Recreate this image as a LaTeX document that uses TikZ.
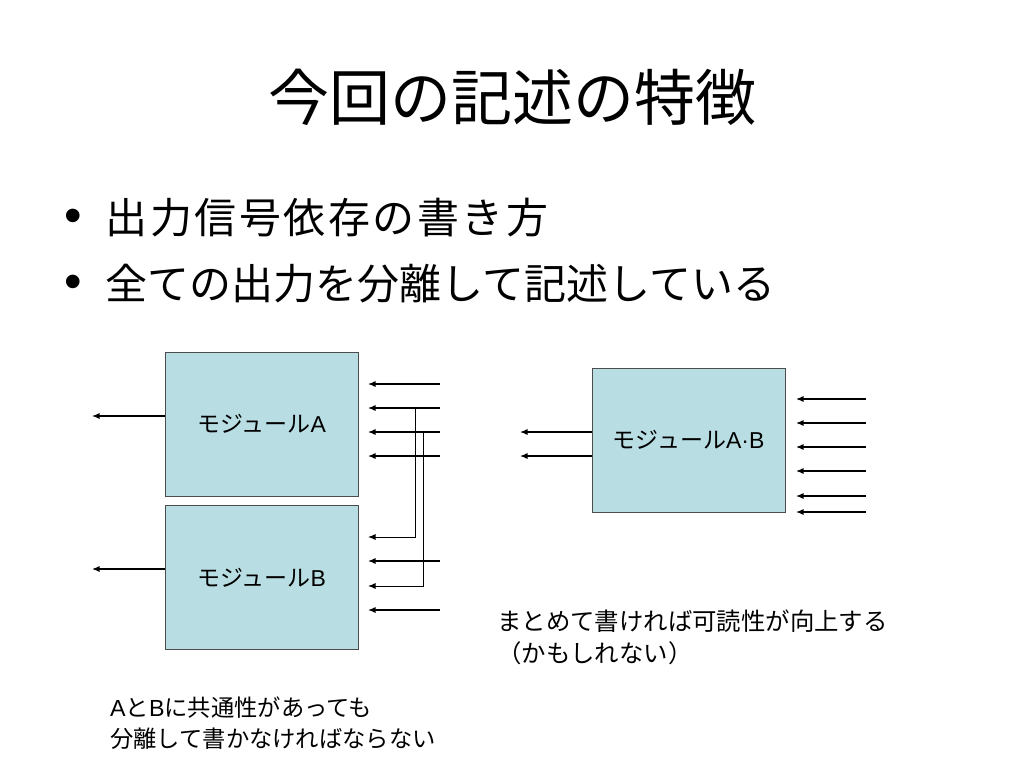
\documentclass[tikz,border=0pt]{standalone}
\usepackage{fontspec}
\setmainfont{Noto Sans CJK JP}
\newfontfamily\latin{Liberation Sans}
\newfontfamily\wide[LetterSpace=6]{Noto Sans CJK JP}
\usepackage{xcolor}
\usetikzlibrary{arrows.meta}
\usetikzlibrary{calc}
\definecolor{modfill}{RGB}{184,222,227}
\newcommand\fsz[1]{\fontsize{#1}{1.35\dimexpr#1pt\relax}\selectfont}
\tikzstyle{module}=[draw=black!70,line width=.9pt,fill=modfill,minimum width=193pt,minimum height=144pt,inner sep=0pt,font=\fsz{23}]
\tikzstyle{sighead}=[>/.tip={Latex[length=7.5pt,width=6pt]}]
\tikzstyle{sig}=[line width=1.2pt,sighead,->]
\tikzstyle{fork}=[line width=1pt,sighead,->]
\begin{document}
\begin{tikzpicture}[x=1pt,y=-1pt]
\useasboundingbox (0,0) rectangle (1024,768);
% title and bullets
\node[font=\fsz{61}] (title) at (512,97) {今回の記述の特徴};
\node[anchor=base west,font=\wide\fsz{42}] (item1) at (102,233) {出力信号依存の書き方};
\node[anchor=base west,font=\fsz{42}] (item2) at (102,299) {全ての出力を分離して記述している};
\node[font=\latin\fsz{50}] (dot1) at (73,221) {•};
\node[font=\latin\fsz{50}] (dot2) at (73,287) {•};
% separate modules
\node[module] (modA) at (261.5,424) {モジュール{\latin A}};
\node[module] (modB) at (261.5,577.5) {モジュール{\latin B}};
\coordinate (outA) at (92,416);
\coordinate (outB) at (92,569);
\draw[sig] (modA.west |- outA) -- (outA);
\draw[sig] (modB.west |- outB) -- (outB);
\foreach \y [count=\i] in {384,408,432,456} {
  \coordinate (srcA\i) at (440,\y);
  \coordinate (inA\i) at (368,\y);
  \draw[sig] (srcA\i) -- (inA\i);
}
\foreach \y [count=\i] in {537,561,586,610} {
  \coordinate (inB\i) at (368,\y);
}
\coordinate (srcB2) at (440,561);
\coordinate (srcB4) at (440,610);
\draw[sig] (srcB2) -- (inB2);
\draw[sig] (srcB4) -- (inB4);
\coordinate (tap2) at (415,408);
\coordinate (tap3) at (423,432);
\draw[fork] (tap2) |- (inB1);
\draw[fork] (tap3) |- (inB3);
% merged module
\node[module] (modAB) at (688.5,440) {モジュール{\latin A·B}};
\foreach \y [count=\i] in {432,456} {
  \coordinate (outAB\i) at (520,\y);
  \draw[sig] (modAB.west |- outAB\i) -- (outAB\i);
}
\foreach \y [count=\i] in {399,423,447,471,496,512} {
  \coordinate (srcAB\i) at (866,\y);
  \coordinate (inAB\i) at (796,\y);
  \draw[sig] (srcAB\i) -- (inAB\i);
}
% notes
\node[anchor=base west,align=left,font=\fontsize{23.3}{31}\selectfont,inner sep=0pt] (noteA) at (110,747)
  {{\latin A}と{\latin B}に共通性があっても\\分離して書かなければならない};
\node[anchor=base west,align=left,font=\fontsize{24.4}{32}\selectfont,inner sep=0pt] (noteAB) at (497,662)
  {まとめて書ければ可読性が向上する\\（かもしれない）};
\end{tikzpicture}
\end{document}
